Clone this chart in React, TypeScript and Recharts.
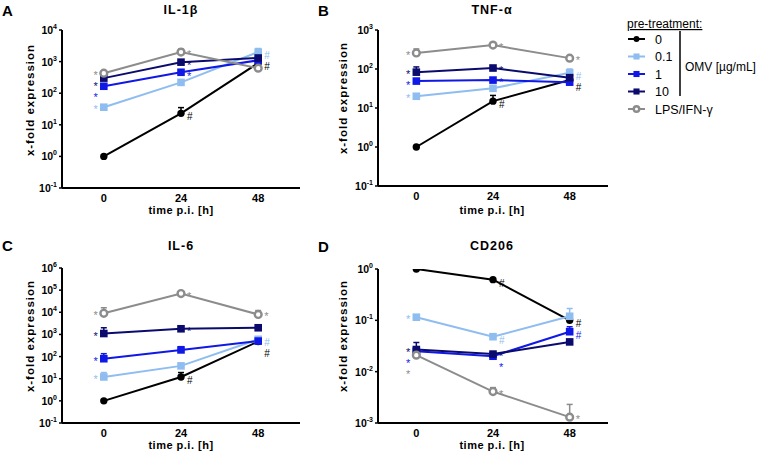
import React from 'react'
import { LineChart, Line, XAxis, YAxis, ErrorBar } from 'recharts'

const hours = [0, 24, 48]

// IL-1β
const il1bCtrl = [1, 23, 900]
const il1bOmv01 = [36, 220, 2000]
const il1bOmv1 = [166, 460, 1100]
const il1bOmv10 = [300, 960, 1300]
const il1bLps = [430, 2000, 620]
const il1bErr = [
  [null, 12, null],
  [null, null, 600],
  [null, null, null],
  [null, null, null],
  [null, 500, null],
]
const il1bSig = [
  ['', '#', '#'],
  ['*', '', '#'],
  ['*', '*', ''],
  ['*', '*', ''],
  ['*', '*', ''],
]

// TNF-α
const tnfCtrl = [1, 15, 52]
const tnfOmv01 = [20, 32, 80]
const tnfOmv1 = [49, 52, 46]
const tnfOmv10 = [83, 106, 60]
const tnfLps = [257, 410, 190]
const tnfErr = [
  [null, 6, null],
  [null, null, 20],
  [null, null, null],
  [30, null, null],
  [70, 60, null],
]
const tnfSig = [
  ['', '#', '#'],
  ['*', '', '#'],
  ['*', '*', ''],
  ['*', '*', ''],
  ['*', '*', '*'],
]

// IL-6
const il6Ctrl = [1, 12, 480]
const il6Omv01 = [12, 38, 600]
const il6Omv1 = [80, 200, 500]
const il6Omv10 = [1100, 1800, 2000]
const il6Lps = [9000, 70000, 8000]
const il6Err = [
  [null, 7, null],
  [7, null, null],
  [55, 80, null],
  [900, null, null],
  [7000, null, 4000],
]
const il6Sig = [
  ['', '#', '#'],
  ['*', '', '#'],
  ['*', '', ''],
  ['*', '*', ''],
  ['*', '*', '*'],
]

// CD206
const cdCtrl = [1, 0.62, 0.1]
const cdOmv01 = [0.115, 0.048, 0.12]
const cdOmv1 = [0.025, 0.02, 0.06]
const cdOmv10 = [0.027, 0.022, 0.038]
const cdLps = [0.021, 0.0041, 0.0013]
const cdErr = [
  [null, null, null],
  [null, null, 0.05],
  [null, null, 0.015],
  [0.01, null, null],
  [null, 0.0008, 0.001],
]
const cdSig = [
  ['', '#', '#'],
  ['*', '#', ''],
  ['*', '*', '#'],
  ['*', '*', ''],
  ['*', '*', '*'],
]

const seriesNames = ['0', '0.1', '1', '10', 'LPS/IFN-γ']
const seriesColors = ['#000000', '#8fbdf0', '#1018e6', '#0b0b6e', '#8c8c8c']
const seriesShapes = ['dot', 'square', 'square', 'square', 'ring']

const FONT = '"Liberation Sans", Arial, sans-serif'
const CHART_H = 215
const X_AXIS_H = 20
const SIG_GAP = 11

const sigShift = (s: string) => (s === '#' ? 7 : 6)

// rows for recharts + the baseline of each significance mark, pushed apart so stacked marks don't collide
function buildRows(
  values: number[][],
  errs: (number | null)[][],
  sigs: string[][],
  yDomain: number[],
  plotH: number,
) {
  const lmin = Math.log10(yDomain[0])
  const lmax = Math.log10(yDomain[1])
  return hours.map((t, i) => {
    const row: any = { t }
    const marks: { k: number; y: number }[] = []
    values.forEach((v, k) => {
      row[`s${k}`] = v[i]
      const e = errs[k][i]
      row[`e${k}`] = e ? [0, e] : null
      row[`g${k}`] = sigs[k][i]
      row[`d${k}`] = 0
      if (sigs[k][i]) {
        const py = ((lmax - Math.log10(v[i])) / (lmax - lmin)) * plotH
        marks.push({ k, y: py + sigShift(sigs[k][i]) })
      }
    })
    marks.sort((a, b) => a.y - b.y)
    let prev = -Infinity
    marks.forEach((m) => {
      const y = Math.max(m.y, prev + SIG_GAP)
      row[`d${m.k}`] = y - m.y
      prev = y
    })
    return row
  })
}

function Mark({ cx, cy, shape, color, size = 1 }: any) {
  if (shape === 'dot') return <circle cx={cx} cy={cy} r={3.7 * size} fill={color} />
  if (shape === 'square')
    return <rect x={cx - 3.8 * size} y={cy - 3.8 * size} width={7.6 * size} height={7.6 * size} fill={color} />
  return <circle cx={cx} cy={cy} r={3.4 * size} fill="#fff" stroke={color} strokeWidth={2.4} />
}

function PointMark(props: any) {
  const { cx, cy, index, payload, k } = props
  if (cx == null || cy == null) return <g key={`p${k}-${index}`} />
  const color = seriesColors[k]
  const sig: string = payload[`g${k}`] || ''
  const nudge: number = payload[`d${k}`] || 0
  const left = index === 0
  return (
    <g key={`p${k}-${index}`}>
      <Mark cx={cx} cy={cy} shape={seriesShapes[k]} color={color} />
      {sig && (
        <text
          x={left ? cx - 6 : cx + 6}
          y={cy + sigShift(sig) + nudge}
          textAnchor={left ? 'end' : 'start'}
          fontSize={sig === '#' ? 10 : 11}
          fontFamily={FONT}
          fill={color}
        >
          {sig}
        </text>
      )}
    </g>
  )
}

function PowTick({ x, y, payload }: any) {
  const e = Math.round(Math.log10(payload.value))
  return (
    <text x={x} y={y + 4} textAnchor="end" fontSize={10.5} fontWeight={700} fontFamily={FONT} fill="#000">
      10
      <tspan dy={-5} fontSize={7}>
        {e}
      </tspan>
    </text>
  )
}

interface PanelProps {
  left: number
  top: number
  margin: { top: number; right: number; left: number; bottom: number }
  xDomain: number[]
  yDomain: number[]
  yTicks: number[]
  values: number[][]
  errs: (number | null)[][]
  sigs: string[][]
}

function Panel({ left, top, margin, xDomain, yDomain, yTicks, values, errs, sigs }: PanelProps) {
  const plotH = CHART_H - margin.top - margin.bottom - X_AXIS_H
  const rows = buildRows(values, errs, sigs, yDomain, plotH)
  return (
    <div style={{ position: 'absolute', left, top }}>
      <LineChart width={310} height={CHART_H} data={rows} margin={margin}>
        <XAxis
          dataKey="t"
          type="number"
          domain={xDomain}
          ticks={hours}
          interval={0}
          allowDataOverflow
          tickLine={false}
          tickMargin={0}
          axisLine={{ stroke: '#000', strokeWidth: 2 }}
          tick={{ fill: '#000', fontSize: 11, fontWeight: 700, fontFamily: FONT }}
          height={X_AXIS_H}
        />
        <YAxis
          type="number"
          scale="log"
          domain={yDomain}
          ticks={yTicks}
          interval={0}
          allowDataOverflow
          width={62}
          tick={<PowTick />}
          tickSize={3}
          tickMargin={2}
          tickLine={{ stroke: '#000', strokeWidth: 1.5 }}
          axisLine={{ stroke: '#000', strokeWidth: 2 }}
        />
        {values.map((_, k) => (
          <Line
            key={k}
            dataKey={`s${k}`}
            name={seriesNames[k]}
            stroke={seriesColors[k]}
            strokeWidth={2}
            isAnimationActive={false}
            dot={(p: any) => <PointMark {...p} k={k} key={`p${k}-${p.index}`} />}
            activeDot={false}
          >
            <ErrorBar dataKey={`e${k}`} direction="y" width={3} stroke={seriesColors[k]} strokeWidth={1.5} />
          </Line>
        ))}
      </LineChart>
    </div>
  )
}

const bold = { fontFamily: FONT, fontWeight: 700, fill: '#000' }

export default function App() {
  const legendRows = [39, 56.5, 74, 91.5, 109]
  return (
    <div style={{ position: 'absolute', left: 0, top: 0, width: 760, height: 458, background: '#fff' }}>
      <Panel
        left={0}
        top={0}
        margin={{ top: 30, right: 10, left: 0, bottom: 7 }}
        xDomain={[-13, 61]}
        yDomain={[0.1, 10000]}
        yTicks={[0.1, 1, 10, 100, 1000, 10000]}
        values={[il1bCtrl, il1bOmv01, il1bOmv1, il1bOmv10, il1bLps]}
        errs={il1bErr}
        sigs={il1bSig}
      />
      <Panel
        left={316}
        top={0}
        margin={{ top: 30, right: 18, left: 0, bottom: 9 }}
        xDomain={[-12, 60]}
        yDomain={[0.1, 1000]}
        yTicks={[0.1, 1, 10, 100, 1000]}
        values={[tnfCtrl, tnfOmv01, tnfOmv1, tnfOmv10, tnfLps]}
        errs={tnfErr}
        sigs={tnfSig}
      />
      <Panel
        left={0}
        top={238}
        margin={{ top: 30, right: 10, left: 0, bottom: 10 }}
        xDomain={[-13, 61]}
        yDomain={[0.1, 1000000]}
        yTicks={[0.1, 1, 10, 100, 1000, 10000, 100000, 1000000]}
        values={[il6Ctrl, il6Omv01, il6Omv1, il6Omv10, il6Lps]}
        errs={il6Err}
        sigs={il6Sig}
      />
      <Panel
        left={316}
        top={238}
        margin={{ top: 31, right: 18, left: 0, bottom: 10 }}
        xDomain={[-12, 60]}
        yDomain={[0.001, 1]}
        yTicks={[0.001, 0.01, 0.1, 1]}
        values={[cdCtrl, cdOmv01, cdOmv1, cdOmv10, cdLps]}
        errs={cdErr}
        sigs={cdSig}
      />
      <svg width={760} height={458} style={{ position: 'absolute', left: 0, top: 0, pointerEvents: 'none' }}>
        <text x={2} y={16} fontSize={15} {...bold}>A</text>
        <text x={318} y={16} fontSize={15} {...bold}>B</text>
        <text x={2} y={251} fontSize={15} {...bold}>C</text>
        <text x={318} y={252} fontSize={15} {...bold}>D</text>

        <text x={181} y={14} fontSize={12.5} letterSpacing={1} textAnchor="middle" {...bold}>IL-1β</text>
        <text x={492} y={14} fontSize={12.5} letterSpacing={1} textAnchor="middle" {...bold}>TNF-α</text>
        <text x={181} y={250} fontSize={12.5} letterSpacing={1} textAnchor="middle" {...bold}>IL-6</text>
        <text x={492} y={250} fontSize={12.5} letterSpacing={1} textAnchor="middle" {...bold}>CD206</text>

        {[
          [30, 100],
          [343, 98],
          [30, 336],
          [343, 336],
        ].map(([x, y], i) => (
          <text
            key={i}
            transform={`translate(${x},${y}) rotate(-90)`}
            textAnchor="middle"
            dominantBaseline="central"
            fontSize={11.5}
            letterSpacing={1}
            {...bold}
          >
            x-fold expression
          </text>
        ))}
        {[
          [181, 214],
          [492, 214],
          [181, 449],
          [492, 449],
        ].map(([x, y], i) => (
          <text key={i} x={x} y={y} textAnchor="middle" fontSize={11} letterSpacing={0.5} {...bold}>
            time p.i. [h]
          </text>
        ))}

        <text x={627} y={28} fontSize={12} fontFamily={FONT} fill="#000" textDecoration="underline">
          pre-treatment:
        </text>
        {seriesNames.map((name, k) => (
          <g key={name}>
            <line x1={628} x2={645} y1={legendRows[k]} y2={legendRows[k]} stroke={seriesColors[k]} strokeWidth={2} />
            <Mark cx={636.5} cy={legendRows[k]} shape={seriesShapes[k]} color={seriesColors[k]} size={0.8} />
            <text x={655} y={legendRows[k] + 4.5} fontSize={12.5} fontFamily={FONT} fill="#000">
              {name}
            </text>
          </g>
        ))}
        <line x1={680} x2={680} y1={31} y2={96} stroke="#000" strokeWidth={1.5} />
        <text x={685} y={71} fontSize={12} fontFamily={FONT} fill="#000">
          OMV [µg/mL]
        </text>
      </svg>
    </div>
  )
}
